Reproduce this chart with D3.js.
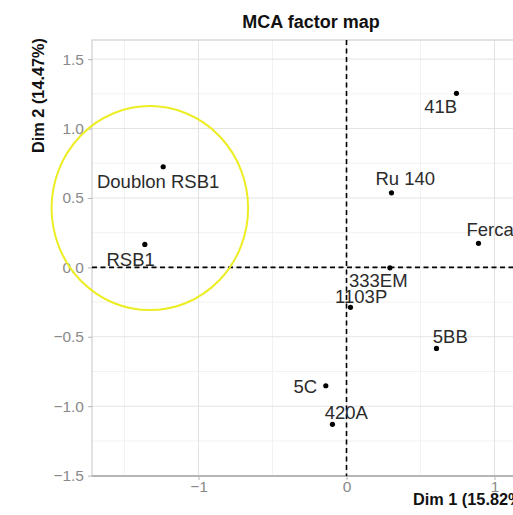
<!DOCTYPE html>
<html>
<head>
<meta charset="utf-8">
<script src="https://cdn.jsdelivr.net/npm/d3@7"></script>
<style>
  body { margin: 0; background: white; }
  svg { display: block; overflow: hidden; }
</style>
</head>
<body>
<svg id="chart" width="513" height="515"></svg>
<script>
// MCA individuals (Dim 1, Dim 2)
const names = ["41B", "Ru 140", "Fercal", "Doublon RSB1", "RSB1", "333EM", "1103P", "5BB", "5C", "420A"];
const dim1 = [0.743, 0.304, 0.892, -1.239, -1.363, 0.293, 0.027, 0.608, -0.140, -0.095];
const dim2 = [1.254, 0.537, 0.173, 0.725, 0.165, -0.003, -0.288, -0.584, -0.853, -1.131];
// repelled label centres, in data units
const labelX = [0.637, 0.397, 0.984, -1.273, -1.459, 0.215, 0.099, 0.701, -0.278, -0.001];
const labelY = [1.162, 0.640, 0.276, 0.618, 0.060, -0.092, -0.210, -0.495, -0.855, -1.046];

const xMajor = [-1, 0, 1];
const xMinor = [-1.5, -0.5, 0.5, 1.5];
const yMajor = [-1.5, -1.0, -0.5, 0.0, 0.5, 1.0, 1.5];
const yMinor = [-1.25, -0.75, -0.25, 0.25, 0.75, 1.25];

// hand-drawn highlight ring: centre and radii in data units
const ring = { cx: -1.329, cy: 0.427, rx: 0.664, ry: 0.735 };

const svg = d3.select("#chart");
const panel = { left: 92, top: 40, right: 530, bottom: 476 };

const x = d3.scaleLinear().domain([-1.72, 1.24]).range([panel.left, panel.right]);
const y = d3.scaleLinear().domain([-1.503, 1.638]).range([panel.bottom, panel.top]);

const font = "'Liberation Sans', Arial, sans-serif";

svg.append("rect")
    .attr("x", panel.left).attr("y", panel.top)
    .attr("width", panel.right - panel.left).attr("height", panel.bottom - panel.top)
    .attr("fill", "white");

// grid
svg.selectAll(".xminor").data(xMinor).join("line")
    .attr("x1", d => x(d)).attr("x2", d => x(d))
    .attr("y1", panel.top).attr("y2", panel.bottom)
    .attr("stroke", "#f2f2f2").attr("stroke-width", 1);
svg.selectAll(".yminor").data(yMinor).join("line")
    .attr("y1", d => y(d)).attr("y2", d => y(d))
    .attr("x1", panel.left).attr("x2", panel.right)
    .attr("stroke", "#f2f2f2").attr("stroke-width", 1);
svg.selectAll(".xmajor").data(xMajor).join("line")
    .attr("x1", d => x(d)).attr("x2", d => x(d))
    .attr("y1", panel.top).attr("y2", panel.bottom)
    .attr("stroke", "#e3e3e3").attr("stroke-width", 1);
svg.selectAll(".ymajor").data(yMajor).join("line")
    .attr("y1", d => y(d)).attr("y2", d => y(d))
    .attr("x1", panel.left).attr("x2", panel.right)
    .attr("stroke", "#e3e3e3").attr("stroke-width", 1);

// panel border
svg.append("rect")
    .attr("x", panel.left).attr("y", panel.top)
    .attr("width", panel.right - panel.left).attr("height", panel.bottom - panel.top)
    .attr("fill", "none").attr("stroke", "#cfcfcf").attr("stroke-width", 1.2);
svg.append("line")
    .attr("x1", panel.left).attr("x2", panel.right)
    .attr("y1", panel.bottom).attr("y2", panel.bottom)
    .attr("stroke", "#b5b5b5").attr("stroke-width", 1.8);

// axes
const minus = s => s.replace("-", "\u2212");
const yAxis = svg.append("g")
    .attr("transform", `translate(${panel.left},0)`)
    .call(d3.axisLeft(y).tickValues(yMajor).tickFormat(d => minus(d3.format(".1f")(d))).tickSize(4).tickPadding(4));
const xAxis = svg.append("g")
    .attr("transform", `translate(0,${panel.bottom})`)
    .call(d3.axisBottom(x).tickValues(xMajor).tickFormat(d => minus(d3.format("d")(d))).tickSize(4).tickPadding(1));
[xAxis, yAxis].forEach(g => {
    g.select(".domain").remove();
    g.selectAll(".tick line").attr("stroke", "#b5b5b5");
    g.selectAll(".tick text")
        .attr("fill", "#8a8a8a")
        .attr("font-family", font)
        .attr("font-size", 15.5);
});

// reference lines
svg.append("line")
    .attr("x1", x(0)).attr("x2", x(0))
    .attr("y1", panel.top).attr("y2", panel.bottom)
    .attr("stroke", "black").attr("stroke-width", 1.6).attr("stroke-dasharray", "5,3.5");
svg.append("line")
    .attr("x1", panel.left).attr("x2", panel.right)
    .attr("y1", y(0)).attr("y2", y(0))
    .attr("stroke", "black").attr("stroke-width", 1.6).attr("stroke-dasharray", "5,3.5");

// points
const pts = names.map((n, i) => ({ name: n, x: dim1[i], y: dim2[i], lx: labelX[i], ly: labelY[i] }));
svg.selectAll(".pt").data(pts).join("circle")
    .attr("class", "pt")
    .attr("cx", d => x(d.x)).attr("cy", d => y(d.y))
    .attr("r", 2.6).attr("fill", "black");
svg.selectAll(".lab").data(pts).join("text")
    .attr("class", "lab")
    .attr("x", d => x(d.lx)).attr("y", d => y(d.ly))
    .attr("text-anchor", "middle")
    .attr("dominant-baseline", "central")
    .attr("font-family", font)
    .attr("font-size", 18.5)
    .attr("fill", "#2b2b2b")
    .text(d => d.name);

// titles
svg.append("text")
    .attr("x", 311).attr("y", 27.5)
    .attr("text-anchor", "middle")
    .attr("font-family", font).attr("font-weight", "bold").attr("font-size", 18)
    .attr("fill", "#111")
    .text("MCA factor map");
svg.append("text")
    .attr("transform", "translate(44,38) rotate(-90)")
    .attr("text-anchor", "end")
    .attr("font-family", font).attr("font-weight", "bold").attr("font-size", 16.3)
    .attr("fill", "#111")
    .text("Dim 2 (14.47%)");
svg.append("text")
    .attr("x", 413).attr("y", 505)
    .attr("font-family", font).attr("font-weight", "bold").attr("font-size", 16.3)
    .attr("fill", "#111")
    .text("Dim 1 (15.82%)");

// yellow highlight ring
svg.append("ellipse")
    .attr("cx", x(ring.cx)).attr("cy", y(ring.cy))
    .attr("rx", x(ring.cx + ring.rx) - x(ring.cx))
    .attr("ry", y(ring.cy) - y(ring.cy + ring.ry))
    .attr("fill", "none").attr("stroke", "#eded24").attr("stroke-width", 2);
</script>
</body>
</html>
